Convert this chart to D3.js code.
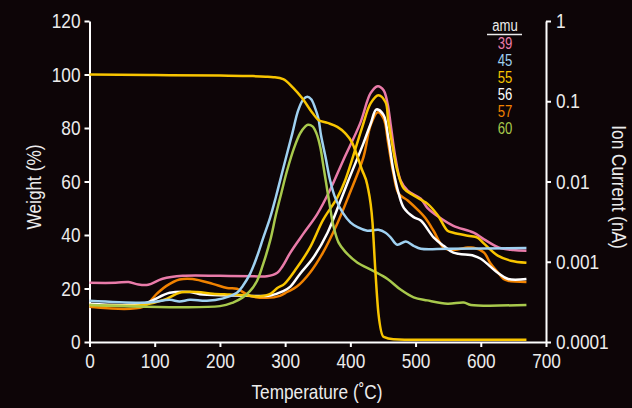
<!DOCTYPE html>
<html>
<head>
<meta charset="utf-8">
<script src="https://cdn.jsdelivr.net/npm/d3@7"></script>
<style>
  body { margin: 0; background: #0d0507; }
  text { font-family: "Liberation Sans", Arial, sans-serif; }
</style>
</head>
<body>
<div id="chart"></div>
<script>
// weight loss curve (left axis), [temperature, weight %]
const tga = [
  [0, 100], [100, 99.8], [200, 99.6], [250, 99.4], [270, 99.2], [282, 99.0],
  [297, 98.3], [312, 95.1], [326, 91.2], [342, 85.6], [351, 83.0], [365, 81.9],
  [380, 80.4], [392, 78.1], [403, 74.4], [411, 69.2], [418, 64.3], [426, 58.7],
  [434, 44.5], [438, 28], [443, 10.8], [451, 1.9], [466, 1.0], [500, 0.8], [670, 0.8]
];

// ion currents (right axis, nA), [temperature, current]
const amu39 = [
  [0, 0.000546], [40, 0.000546], [60, 0.00056], [75, 0.00052], [90, 0.000516],
  [112, 0.000613], [143, 0.000668], [200, 0.000668], [250, 0.00066], [272, 0.00066],
  [288, 0.00073], [296, 0.00088], [308, 0.0013], [328, 0.00224], [349, 0.0039],
  [369, 0.0079], [389, 0.0183], [415, 0.053], [431, 0.126], [442, 0.154],
  [451, 0.137], [457, 0.094], [462, 0.05], [469, 0.02], [477, 0.0103], [488, 0.0077],
  [508, 0.0061], [518, 0.0047], [538, 0.0035], [558, 0.0028], [589, 0.0023],
  [605, 0.0019], [628, 0.0015], [650, 0.0014], [670, 0.00137]
];
const amu45 = [
  [0, 0.000326], [90, 0.00031], [123, 0.000335], [138, 0.00032], [154, 0.000335],
  [180, 0.000326], [205, 0.00035], [226, 0.00041], [235, 0.0005], [246, 0.0007],
  [257, 0.00117], [266, 0.00194], [277, 0.00355], [286, 0.0065], [297, 0.0145],
  [311, 0.0398], [320, 0.077], [328, 0.106], [334, 0.114], [340, 0.106],
  [346, 0.082], [351, 0.061], [355, 0.0376], [362, 0.02], [369, 0.0103],
  [377, 0.0062], [389, 0.004], [400, 0.0031], [411, 0.0027], [426, 0.00244],
  [443, 0.0025], [454, 0.0023], [462, 0.002], [472, 0.00163], [485, 0.00179],
  [497, 0.00158], [508, 0.00145], [550, 0.00145], [670, 0.00148]
];
const amu55 = [
  [0, 0.00029], [82, 0.00029], [118, 0.000345], [138, 0.00041], [165, 0.00042],
  [189, 0.0004], [215, 0.00039], [242, 0.00038], [260, 0.00037], [278, 0.0004],
  [288, 0.00047], [299, 0.00053], [318, 0.00084], [338, 0.0015], [358, 0.0033],
  [380, 0.0063], [392, 0.0103], [418, 0.047], [431, 0.094], [443, 0.119],
  [454, 0.097], [458, 0.058], [465, 0.0266], [472, 0.0137], [482, 0.0082],
  [497, 0.0067], [518, 0.0053], [534, 0.0038], [549, 0.00244], [558, 0.0023],
  [580, 0.00211], [595, 0.002], [605, 0.00168], [626, 0.00119], [646, 0.00103],
  [670, 0.00097]
];
const amu56 = [
  [0, 0.0003], [82, 0.0003], [123, 0.00041], [154, 0.00042], [174, 0.00039],
  [226, 0.00038], [277, 0.00038], [297, 0.00043], [308, 0.00049], [323, 0.00071],
  [343, 0.00112], [365, 0.0023], [385, 0.0058], [397, 0.0103], [420, 0.0299],
  [431, 0.052], [440, 0.079], [451, 0.067], [458, 0.0355], [466, 0.0137],
  [474, 0.0071], [482, 0.0047], [497, 0.0036], [508, 0.00326], [528, 0.002],
  [543, 0.00158], [558, 0.0013], [589, 0.00119], [600, 0.00109], [626, 0.00073],
  [642, 0.00061], [670, 0.00061]
];
const amu57 = [
  [0, 0.000274], [82, 0.000274], [103, 0.000398], [118, 0.0005], [138, 0.0006],
  [158, 0.00061], [189, 0.00053], [211, 0.00047], [226, 0.00046], [246, 0.000376],
  [272, 0.000355], [292, 0.000376], [303, 0.00042], [318, 0.00049], [338, 0.00073],
  [358, 0.0013], [380, 0.003], [398, 0.0068], [420, 0.02], [431, 0.05], [442, 0.073],
  [451, 0.061], [458, 0.03], [466, 0.0126], [474, 0.0071], [488, 0.0058],
  [505, 0.0043], [515, 0.0035], [528, 0.0024], [543, 0.0015], [558, 0.00141],
  [580, 0.0015], [589, 0.0015], [605, 0.0013], [615, 0.00095], [626, 0.00074],
  [635, 0.00061], [642, 0.00058], [670, 0.00056]
];
const amu60 = [
  [0, 0.00029], [200, 0.00028], [220, 0.00031], [235, 0.00036], [246, 0.00043],
  [257, 0.00058], [266, 0.00092], [277, 0.00183], [286, 0.0039], [294, 0.0071],
  [303, 0.0137], [314, 0.0266], [323, 0.0398], [331, 0.0486], [335, 0.051],
  [342, 0.0486], [348, 0.0398], [354, 0.0266], [358, 0.0168], [363, 0.0094],
  [368, 0.0053], [374, 0.0028], [382, 0.00173], [392, 0.00134], [411, 0.00097],
  [435, 0.00077], [457, 0.00061], [477, 0.00045], [497, 0.00036], [518, 0.00033],
  [549, 0.0003], [574, 0.00031], [585, 0.00029], [670, 0.00029]
];

const amuLabels = ["39", "45", "55", "56", "57", "60"];
const amuColors = ["#e97ba9", "#9fd1f1", "#f8c500", "#ffffff", "#f08200", "#a8c94c"];
const amuData = [amu39, amu45, amu55, amu56, amu57, amu60];

const weightTicks = [0, 20, 40, 60, 80, 100, 120];
const tempTicks = [0, 100, 200, 300, 400, 500, 600, 700];
const ionTicks = [1, 0.1, 0.01, 0.001, 0.0001];

const W = 632, H = 408;
const plot = {left: 89.5, right: 546, top: 21, bottom: 342};
const textColor = "#ececec";
const squeeze = 0.82; // the original type is a narrow sans

const svg = d3.select("#chart").append("svg")
  .attr("width", W).attr("height", H)
  .style("background", "#0d0507");

const x = d3.scaleLinear().domain([0, 700]).range([plot.left, plot.right]);
const yW = d3.scaleLinear().domain([0, 120]).range([plot.bottom, plot.top]);
const yI = d3.scaleLog().domain([0.0001, 1]).range([plot.bottom, plot.top]);

// axes
function styleAxis(g) {
  g.select(".domain").attr("stroke", "#fff").attr("stroke-width", 2);
  g.selectAll(".tick line").attr("stroke", "#fff").attr("stroke-width", 2);
  g.selectAll(".tick text").attr("fill", textColor).style("font-size", "21px");
}

svg.append("g")
  .attr("transform", `translate(0,${plot.bottom})`)
  .call(d3.axisBottom(x).tickValues(tempTicks).tickSize(5).tickSizeOuter(0).tickPadding(6))
  .call(styleAxis);

svg.append("g")
  .attr("transform", `translate(${plot.left},0)`)
  .call(d3.axisLeft(yW).tickValues(weightTicks).tickSize(5).tickSizeOuter(0).tickPadding(4))
  .call(styleAxis);

svg.append("g")
  .attr("transform", `translate(${plot.right},0)`)
  .call(d3.axisRight(yI).tickValues(ionTicks).tickFormat(d => String(d)).tickSize(5).tickSizeOuter(0).tickPadding(5))
  .call(styleAxis);

// axis titles
svg.append("text")
  .attr("transform", "translate(41,187) rotate(-90)")
  .attr("text-anchor", "middle")
  .attr("fill", textColor).style("font-size", "21px")
  .text("Weight (%)");

svg.append("text")
  .attr("transform", "translate(612,187) rotate(90)")
  .attr("text-anchor", "middle")
  .attr("fill", textColor).style("font-size", "21px")
  .text("Ion Current (nA)");

svg.append("text")
  .attr("x", 317).attr("y", 399)
  .attr("text-anchor", "middle")
  .attr("fill", textColor).style("font-size", "21px")
  .text("Temperature (˚C)");

// curves
const ionLine = d3.line()
  .x(d => x(d[0]))
  .y(d => yI(d[1]))
  .curve(d3.curveCatmullRom.alpha(0.5));

const drawOrder = [0, 4, 3, 2, 5, 1];
drawOrder.forEach(i => {
  svg.append("path")
    .datum(amuData[i])
    .attr("fill", "none")
    .attr("stroke", amuColors[i])
    .attr("stroke-width", 2.5)
    .attr("d", ionLine);
});

const tgaLine = d3.line()
  .x(d => x(d[0]))
  .y(d => yW(d[1]))
  .curve(d3.curveMonotoneX);

svg.append("path")
  .datum(tga)
  .attr("fill", "none")
  .attr("stroke", "#f8c500")
  .attr("stroke-width", 2.5)
  .attr("d", tgaLine);

// legend
const legend = svg.append("g").attr("transform", "translate(505,0)");
legend.append("text")
  .attr("y", 31).attr("text-anchor", "middle")
  .attr("fill", textColor).style("font-size", "16px")
  .text("amu");
legend.append("line")
  .attr("x1", -18).attr("x2", 17).attr("y1", 34.5).attr("y2", 34.5)
  .attr("stroke", textColor).attr("stroke-width", 1.5);
legend.selectAll(".amu")
  .data(amuLabels)
  .enter()
  .append("text")
    .attr("class", "amu")
    .attr("y", (d, i) => 49 + i * 16.9)
    .attr("text-anchor", "middle")
    .attr("fill", (d, i) => amuColors[i])
    .style("font-size", "16px")
    .text(d => d);

// squeeze every label horizontally to mimic the condensed face
svg.selectAll("text").each(function() {
  const len = this.getComputedTextLength();
  d3.select(this)
    .attr("textLength", len * squeeze)
    .attr("lengthAdjust", "spacingAndGlyphs");
});
</script>
</body>
</html>
